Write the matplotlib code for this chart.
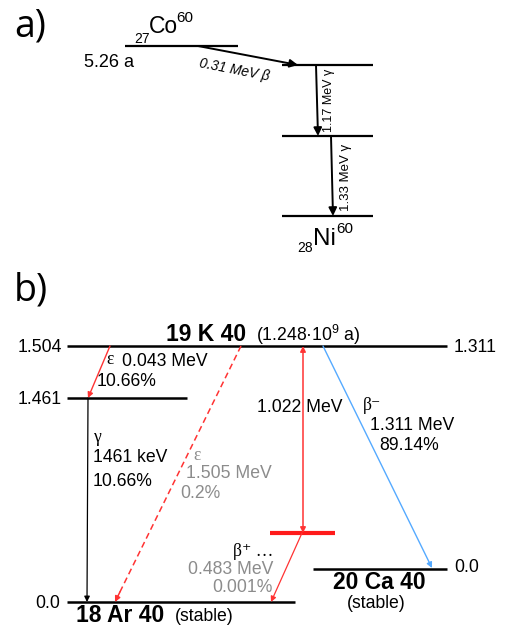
import matplotlib.pyplot as plt

plt.rcParams['font.family'] = ['Liberation Sans', 'DejaVu Sans']
plt.rcParams['mathtext.fontset'] = 'custom'
plt.rcParams['mathtext.rm'] = 'Liberation Sans'
plt.rcParams['mathtext.it'] = 'Liberation Sans:italic'

# Co-60 scheme
co_half_life = "5.26 a"
co_beta = 0.31          # MeV
co_gammas = [1.17, 1.33]  # MeV

# K-40 scheme
k_half_life = r"(1.248·10$^{9}$ a)"
k_left_levels = [1.504, 1.461, 0.0]
k_right_levels = [1.311, 0.0]
ec1 = (0.043, 10.66)      # MeV, %
gamma = (1461, 10.66)     # keV, %
ec2 = (1.505, 0.2)
pair = 1.022
beta_plus = (0.483, 0.001)
beta_minus = (1.311, 89.14)

RED = '#ff3333'
GREY = '#8c8c8c'
BLUE = '#55aaff'
SERIF = ['Liberation Serif', 'DejaVu Serif']

fig = plt.figure(figsize=(5.06, 6.30), dpi=100)
ax = fig.add_axes([0, 0, 1, 1])
ax.set_xlim(0, 506)
ax.set_ylim(630, 0)
ax.axis('off')


def level(x0, x1, y, color='black', lw=1.6):
    ax.plot([x0, x1], [y, y], color=color, lw=lw, solid_capstyle='butt')


def arrow(p0, p1, color='black', lw=1.0, ms=9, ls='-'):
    if ls == '-':
        ax.annotate('', xy=p1, xytext=p0,
                    arrowprops=dict(arrowstyle='-|>', color=color, lw=lw,
                                    mutation_scale=ms, shrinkA=0, shrinkB=0))
    else:
        # dashed shaft, solid head
        ax.plot([p0[0], p1[0]], [p0[1], p1[1]], color=color, lw=lw, ls=ls)
        dx, dy = p1[0] - p0[0], p1[1] - p0[1]
        q = (p1[0] - dx * 0.04, p1[1] - dy * 0.04)
        ax.annotate('', xy=p1, xytext=q,
                    arrowprops=dict(arrowstyle='-|>', color=color, lw=lw,
                                    mutation_scale=ms, shrinkA=0, shrinkB=0))


# ---------- a) ----------
ax.text(14, 27, 'a)', fontsize=27, va='center', ha='left', family=['Open Sans', 'DejaVu Sans'])
level(125, 238, 46)
ax.text(134, 43, '27', fontsize=10, va='baseline')
ax.text(149, 33, 'Co', fontsize=16.5, va='baseline')
ax.text(176.5, 22, '60', fontsize=11, va='baseline')
ax.text(84, 67, co_half_life, fontsize=13, va='baseline')

arrow((198, 46), (298, 65), lw=1.4, ms=12)
ax.text(234, 70, f'{co_beta} MeV β', fontsize=10, style='italic',
        rotation=-11, ha='center', va='center', rotation_mode='anchor')

for y in [65, 136, 216]:
    level(282, 373, y)
arrow((316, 65), (318, 136), lw=1.4, ms=12)
arrow((331, 136), (333, 216), lw=1.4, ms=12)
ax.text(329, 100, f'{co_gammas[0]:.2f} MeV γ', fontsize=9, rotation=90,
        ha='center', va='center')
ax.text(346, 177, f'{co_gammas[1]:.2f} MeV γ', fontsize=9.5, rotation=90,
        ha='center', va='center')
ax.text(297, 252, '28', fontsize=10, va='baseline')
ax.text(313.5, 245, 'Ni', fontsize=17.5, va='baseline')
ax.text(336, 233, '60', fontsize=11, va='baseline')

# ---------- b) ----------
ax.text(14, 290, 'b)', fontsize=27, va='center', ha='left', family=['Open Sans', 'DejaVu Sans'])

fs = 12.7
# levels
level(67, 447, 346, lw=1.8)
level(67, 187, 398, lw=1.8)
level(67, 295, 602, lw=1.8)
level(313, 447, 569, lw=1.8)
level(270, 335, 533, color='#ff1a1a', lw=3)

ax.text(62, 347, f'{k_left_levels[0]:.3f}', fontsize=fs, ha='right', va='center')
ax.text(62, 399, f'{k_left_levels[1]:.3f}', fontsize=fs, ha='right', va='center')
ax.text(60, 603, f'{k_left_levels[2]:.1f}', fontsize=fs, ha='right', va='center')
ax.text(454, 347, f'{k_right_levels[0]:.3f}', fontsize=fs, ha='left', va='center')
ax.text(454, 568, f'{k_right_levels[1]:.1f}', fontsize=fs, ha='left', va='center')

ax.text(166, 341, '19 K 40', fontsize=16.5, fontweight='bold', va='baseline')
ax.text(256, 341, k_half_life, fontsize=fs, va='baseline')
ax.text(76, 622, '18 Ar 40', fontsize=16.5, fontweight='bold', va='baseline')
ax.text(175, 621, '(stable)', fontsize=fs, va='baseline')
ax.text(379, 589, '20 Ca 40', fontsize=16.5, fontweight='bold', ha='center', va='baseline')
ax.text(376, 608, '(stable)', fontsize=fs, ha='center', va='baseline')

# electron capture to 1.461
arrow((110, 346), (88, 398), color=RED, lw=1.0, ms=8)
ax.text(106, 360, 'ε', fontsize=fs, va='center', family=SERIF)
ax.text(122, 361, f'{ec1[0]:.3f} MeV', fontsize=fs, va='center')
ax.text(97, 381, f'{ec1[1]:.2f}%', fontsize=fs, va='center')

# gamma
arrow((88, 398), (87, 602), color='black', lw=0.9, ms=8)
ax.text(93, 437, 'γ', fontsize=fs, va='center', family=SERIF)
ax.text(93, 457, f'{gamma[0]} keV', fontsize=fs, va='center')
ax.text(93, 481, f'{gamma[1]:.2f}%', fontsize=fs, va='center')

# electron capture to ground
arrow((241, 346), (115, 602), color=RED, lw=1.1, ms=8, ls=(0, (4, 2.5)))
ax.text(193, 456, 'ε', fontsize=fs, va='center', color=GREY, family=SERIF)
ax.text(186, 474, f'{ec2[0]:.3f} MeV', fontsize=fs, va='center', color=GREY)
ax.text(180, 494, f'{ec2[1]}%', fontsize=fs, va='center', color=GREY)

# pair energy
ax.annotate('', xy=(303, 346), xytext=(303, 533),
            arrowprops=dict(arrowstyle='<|-|>', color=RED, lw=1.1,
                            mutation_scale=8, shrinkA=0, shrinkB=0))
ax.text(300, 408, f'{pair:.3f} MeV', fontsize=fs, ha='center', va='center')

# beta plus
arrow((302, 533), (271, 602), color=RED, lw=0.9, ms=8)
ax.text(273, 552, 'β⁺ …', fontsize=fs, ha='right', va='center', family=SERIF)
ax.text(273, 569, f'{beta_plus[0]:.3f} MeV', fontsize=fs, ha='right', va='center', color=GREY)
ax.text(273, 588, f'{beta_plus[1]:.3f}%', fontsize=fs, ha='right', va='center', color=GREY)

# beta minus
arrow((323, 346), (432, 568), color=BLUE, lw=1.0, ms=8)
ax.text(363, 405, 'β⁻', fontsize=fs, va='center', family=SERIF)
ax.text(370, 425, f'{beta_minus[0]:.3f} MeV', fontsize=fs, va='center')
ax.text(379, 446, f'{beta_minus[1]:.2f}%', fontsize=fs, va='center')

fig.savefig('out.png', dpi=100)
